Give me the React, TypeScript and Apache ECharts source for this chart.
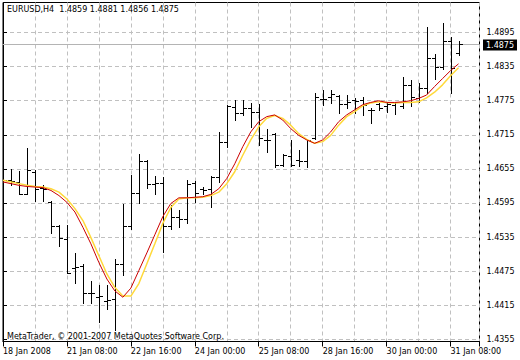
import React, { useEffect, useRef } from "react";
import * as echarts from "echarts";

const symbolName = "EURUSD,H4";
const xTickLabels = [
  "18 Jan 2008", "21 Jan 08:00", "22 Jan 16:00", "24 Jan 00:00",
  "25 Jan 08:00", "28 Jan 16:00", "30 Jan 00:00", "31 Jan 08:00",
];
const yTickValues = [1.4355, 1.4415, 1.4475, 1.4535, 1.4595, 1.4655, 1.4715, 1.4775, 1.4835, 1.4895];

const opens = [
  1.4636, 1.4635, 1.4632, 1.4611, 1.4650, 1.4622, 1.4596, 1.4555, 1.4532, 1.4481,
  1.4484, 1.4436, 1.4430, 1.4422, 1.4426, 1.4487, 1.4555, 1.4612, 1.4668, 1.4629,
  1.4630, 1.4555, 1.4570, 1.4567, 1.4630, 1.4620, 1.4620, 1.4641, 1.4702, 1.4764,
  1.4753, 1.4762, 1.4756, 1.4706, 1.4716, 1.4661, 1.4678, 1.4670, 1.4668, 1.4709,
  1.4778, 1.4782, 1.4783, 1.4769, 1.4776, 1.4776, 1.4759, 1.4769, 1.4766, 1.4768,
  1.4765, 1.4802, 1.4780, 1.4798, 1.4851, 1.4834, 1.4880, 1.4859,
];
const highs = [
  1.4644, 1.4654, 1.4651, 1.4691, 1.4653, 1.4626, 1.4598, 1.4556, 1.4556, 1.4507,
  1.4487, 1.4458, 1.4451, 1.4451, 1.4496, 1.4594, 1.4644, 1.4681, 1.4670, 1.4642,
  1.4641, 1.4591, 1.4582, 1.4636, 1.4634, 1.4623, 1.4642, 1.4720, 1.4768, 1.4776,
  1.4776, 1.4771, 1.4769, 1.4726, 1.4718, 1.4682, 1.4706, 1.4688, 1.4706, 1.4789,
  1.4794, 1.4794, 1.4785, 1.4785, 1.4779, 1.4782, 1.4762, 1.4771, 1.4772, 1.4772,
  1.4816, 1.4812, 1.4806, 1.4904, 1.4857, 1.4912, 1.4888, 1.4881,
];
const lows = [
  1.4605, 1.4626, 1.4610, 1.4610, 1.4598, 1.4598, 1.4542, 1.4519, 1.4471, 1.4454,
  1.4418, 1.4418, 1.4386, 1.4408, 1.4371, 1.4468, 1.4549, 1.4595, 1.4621, 1.4610,
  1.4508, 1.4550, 1.4553, 1.4560, 1.4596, 1.4611, 1.4588, 1.4632, 1.4694, 1.4741,
  1.4750, 1.4729, 1.4697, 1.4684, 1.4658, 1.4660, 1.4660, 1.4660, 1.4658, 1.4707,
  1.4768, 1.4771, 1.4753, 1.4762, 1.4753, 1.4750, 1.4735, 1.4759, 1.4756, 1.4751,
  1.4763, 1.4765, 1.4773, 1.4789, 1.4814, 1.4831, 1.4788, 1.4856,
];
const closes = [
  1.4635, 1.4634, 1.4611, 1.4653, 1.4620, 1.4620, 1.4555, 1.4533, 1.4471, 1.4483,
  1.4436, 1.4436, 1.4431, 1.4424, 1.4487, 1.4555, 1.4612, 1.4668, 1.4629, 1.4630,
  1.4555, 1.4570, 1.4567, 1.4628, 1.4612, 1.4617, 1.4641, 1.4703, 1.4766, 1.4753,
  1.4762, 1.4756, 1.4709, 1.4706, 1.4661, 1.4679, 1.4661, 1.4668, 1.4706, 1.4782,
  1.4778, 1.4786, 1.4769, 1.4773, 1.4775, 1.4768, 1.4759, 1.4762, 1.4769, 1.4772,
  1.4802, 1.4782, 1.4798, 1.4851, 1.4834, 1.4880, 1.4833, 1.4875,
];
const maFast = [
  1.4632, 1.4629, 1.4626, 1.4624, 1.4623, 1.4622, 1.4617, 1.4608, 1.4596, 1.4579,
  1.4552, 1.4523, 1.4490, 1.4461, 1.4440, 1.4429, 1.4445, 1.4476, 1.4507, 1.4539,
  1.4571, 1.4594, 1.4604, 1.4604, 1.4605, 1.4606, 1.4610, 1.4620, 1.4638, 1.4664,
  1.4694, 1.4720, 1.4738, 1.4747, 1.4750, 1.4741, 1.4726, 1.4714, 1.4706, 1.4700,
  1.4706, 1.4720, 1.4738, 1.4750, 1.4759, 1.4768, 1.4772, 1.4775, 1.4772, 1.4772,
  1.4773, 1.4775, 1.4779, 1.4785, 1.4800, 1.4814, 1.4828, 1.4840,
];
const maSlow = [
  1.4635, 1.4632, 1.4629, 1.4626, 1.4624, 1.4623, 1.4620, 1.4614, 1.4602, 1.4585,
  1.4564, 1.4534, 1.4502, 1.4470, 1.4446, 1.4431, 1.4431, 1.4453, 1.4488, 1.4523,
  1.4559, 1.4587, 1.4602, 1.4604, 1.4604, 1.4605, 1.4608, 1.4614, 1.4629, 1.4650,
  1.4679, 1.4706, 1.4729, 1.4744, 1.4749, 1.4744, 1.4732, 1.4717, 1.4707, 1.4700,
  1.4703, 1.4714, 1.4732, 1.4747, 1.4756, 1.4766, 1.4771, 1.4773, 1.4772, 1.4771,
  1.4772, 1.4772, 1.4773, 1.4780, 1.4790, 1.4803, 1.4819, 1.4833,
];

const FONT = "DejaVu Sans";
const GRID_COLOR = "#c0c0c0";

export default function App() {
  const ref = useRef<HTMLDivElement>(null);
  useEffect(() => {
    document.body.style.margin = "0";
    const chart = echarts.init(ref.current!, null, { renderer: "svg" });
    const n = opens.length;
    const ohlc = opens.map((o, i) => [i, o, highs[i], lows[i], closes[i]]);
    const last = n - 1;
    const header = `${symbolName}  ${opens[last].toFixed(4)} ${highs[last].toFixed(4)} ${lows[last].toFixed(4)} ${closes[last].toFixed(4)}`;

    const gridLeft = 2.5;
    const gridRight = 40.5;
    const plotW = 520 - gridLeft - gridRight;
    const xMax = plotW / 8;

    chart.setOption({
      animation: false,
      backgroundColor: "#fff",
      grid: {
        left: gridLeft, right: gridRight, top: 2.5, bottom: 18.5,
        show: true, borderColor: "#000", borderWidth: 1, backgroundColor: "#fff",
      },
      xAxis: [
        {
          type: "value", min: 0, max: xMax, interval: 4, position: "bottom",
          axisLine: { show: true, lineStyle: { color: "#000" } },
          axisTick: { show: false },
          axisLabel: { show: false },
          splitLine: { show: true, lineStyle: { color: GRID_COLOR, type: [4, 3], width: 1 } },
        },
        {
          type: "value", min: 0, max: xMax, interval: 8, position: "bottom",
          axisLine: { show: false },
          axisTick: { show: true, length: 5, lineStyle: { color: "#000" } },
          axisLabel: {
            show: true, align: "left", margin: 6, color: "#000", fontSize: 8, fontFamily: FONT,
            formatter: (v: number) => {
              const k = v / 8;
              return Number.isInteger(k) && k < xTickLabels.length ? xTickLabels[k] : "";
            },
          },
          splitLine: { show: false },
        },
      ],
      yAxis: {
        type: "value", position: "right", min: 1.4351, max: 1.4948,
        axisLine: { show: true, lineStyle: { color: "#000" } },
        axisTick: { show: true, length: 4, customValues: yTickValues, lineStyle: { color: "#000" } },
        axisLabel: {
          customValues: yTickValues, margin: 7, color: "#000", fontSize: 8, fontFamily: FONT,
          formatter: (v: number) => v.toFixed(4),
        },
        splitLine: { show: true, lineStyle: { color: GRID_COLOR, type: [4, 3], width: 1 } },
      },
      series: [
        {
          type: "custom", z: 2, clip: true,
          data: ohlc,
          encode: { x: 0, y: [1, 2, 3, 4] },
          renderItem: (_p: any, api: any) => {
            const i = api.value(0);
            const po = api.coord([i, api.value(1)]);
            const ph = api.coord([i, api.value(2)]);
            const pl = api.coord([i, api.value(3)]);
            const pc = api.coord([i, api.value(4)]);
            const x = Math.round(po[0]) + 0.5;
            const snap = (y: number) => Math.round(y) + 0.5;
            const style = { stroke: "#000", lineWidth: 1 };
            return {
              type: "group",
              children: [
                { type: "line", shape: { x1: x, y1: Math.round(ph[1]), x2: x, y2: Math.round(pl[1]) + 1 }, style },
                { type: "line", shape: { x1: x - 3.5, y1: snap(po[1]), x2: x, y2: snap(po[1]) }, style },
                { type: "line", shape: { x1: x, y1: snap(pc[1]), x2: x + 3.5, y2: snap(pc[1]) }, style },
              ],
            };
          },
        },
        {
          type: "line", z: 3, showSymbol: false, silent: true,
          data: maSlow.map((v, i) => [i, v]),
          lineStyle: { color: "#ffd93a", width: 1.5 },
        },
        {
          type: "line", z: 4, showSymbol: false, silent: true,
          data: maFast.map((v, i) => [i, v]),
          lineStyle: { color: "#cc0000", width: 1 },
        },
      ],
    });

    const yPix = Math.round(chart.convertToPixel({ yAxisIndex: 0 }, closes[last]) as number) + 0.5;
    chart.setOption({
      graphic: [
        {
          id: "lastLine", type: "line", z: 1, silent: true,
          shape: { x1: gridLeft, y1: yPix, x2: 520 - gridRight, y2: yPix },
          style: { stroke: "#b4b4b4", lineWidth: 1 },
        },
        { id: "hdr", type: "text", left: 7, top: 5, z: 100, style: { text: header, fontSize: 8, fontFamily: FONT, fill: "#000" } },
        { id: "ftr", type: "text", left: 7, top: 332, z: 100, style: { text: "MetaTrader, © 2001-2007 MetaQuotes Software Corp.", fontSize: 8, fontFamily: FONT, fill: "#000" } },
        {
          id: "last", type: "text", x: 483, y: Math.round(yPix), z: 100,
          style: {
            text: closes[last].toFixed(4), fontSize: 8, fontFamily: FONT, fill: "#fff",
            backgroundColor: "#000", padding: [2, 3, 1, 3], verticalAlign: "middle", align: "left",
          },
        },
      ],
    });
    return () => chart.dispose();
  }, []);
  return (
    <div
      ref={ref}
      style={{ position: "absolute", left: 0, top: 0, width: 520, height: 360, background: "#fff" }}
    />
  );
}
